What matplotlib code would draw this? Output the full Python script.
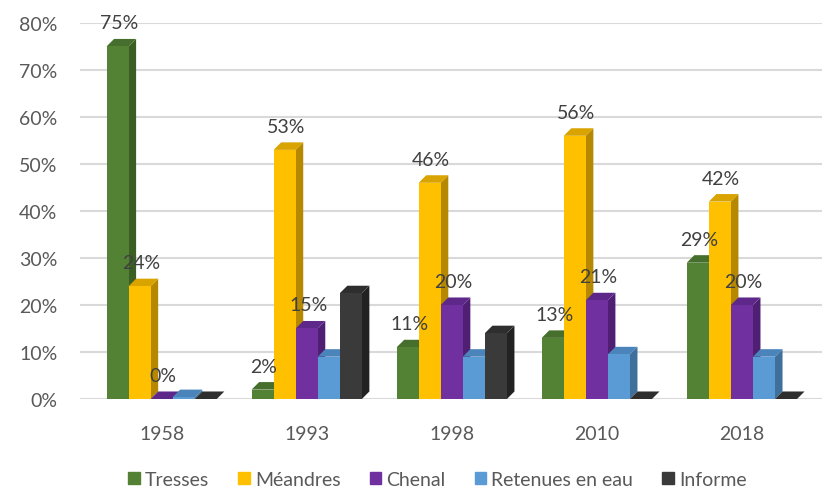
import matplotlib.pyplot as plt
from matplotlib.patches import Polygon
import numpy as np

plt.rcParams['font.family'] = ['Lato', 'DejaVu Sans']

years = ["1958", "1993", "1998", "2010", "2018"]
series = ["Tresses", "Méandres", "Chenal", "Retenues en eau", "Informe"]
tresses = [0.75, 0.02, 0.11, 0.13, 0.29]
meandres = [0.24, 0.53, 0.46, 0.56, 0.42]
chenal = [0.00, 0.15, 0.20, 0.21, 0.20]
retenues = [0.004, 0.09, 0.09, 0.095, 0.09]
informe = [0.0, 0.225, 0.14, 0.0, 0.0]
labelled = [True, True, True, False, False]

values = [tresses, meandres, chenal, retenues, informe]
front = ["#548235", "#FFC000", "#7030A0", "#5B9BD5", "#3A3A3A"]
side = ["#3B5E25", "#B58800", "#4E1F73", "#3F6F9B", "#222222"]
top = ["#466E2C", "#D9A300", "#5E278A", "#4A84BA", "#2E2E2E"]

fig = plt.figure(figsize=(8.3, 4.89), dpi=100)
ax = fig.add_axes([0.096, 0.182, 0.894, 0.769])

x = np.arange(len(years))
w = 0.152
dx = 0.052
dy = 0.016

for g in range(len(years)):
    for i, vals in enumerate(values):
        v = vals[g]
        xl = x[g] + (i - 2) * w - w / 2
        xr = xl + w
        z = 3 + i * 0.1
        ax.add_patch(Polygon([(xr, 0), (xr + dx, dy), (xr + dx, v + dy), (xr, v)],
                             closed=True, facecolor=side[i], edgecolor="none", zorder=z))
        ax.add_patch(Polygon([(xl, v), (xl + dx, v + dy), (xr + dx, v + dy), (xr, v)],
                             closed=True, facecolor=top[i], edgecolor="none", zorder=z))
        ax.bar(xl + w / 2, v, width=w, color=front[i], zorder=z + 0.05)
        if labelled[i]:
            ax.text(xl + w / 2 + 0.01, v + 0.05, f"{round(v * 100):.0f}%", ha="center", va="center",
                    fontsize=14, color="#404040", zorder=10)

ax.set_xlim(-0.565, 4.55)
ax.set_ylim(0, 0.8)
ax.set_yticks(np.arange(0, 0.81, 0.1))
ax.set_yticklabels([f"{t}%" for t in range(0, 81, 10)])
ax.set_xticks(x)
ax.set_xticklabels(years)
ax.tick_params(length=0, labelsize=14, colors="#595959")
ax.tick_params(axis="x", pad=19)
ax.tick_params(axis="y", pad=16)
ax.grid(axis="y", color="#D9D9D9", linewidth=1.5, zorder=0)
ax.set_axisbelow(True)
for s in ax.spines.values():
    s.set_visible(False)

handles = [plt.Rectangle((0, 0), 1, 1, color=c) for c in front]
fig.legend(handles, series, loc="lower center", bbox_to_anchor=(0.527, -0.035), ncol=5,
           frameon=False, fontsize=14, handlelength=0.6, handleheight=0.6,
           handletextpad=0.25, columnspacing=1.5, labelcolor="#595959")

fig.savefig("out.png", dpi=100)
plt.close(fig)
